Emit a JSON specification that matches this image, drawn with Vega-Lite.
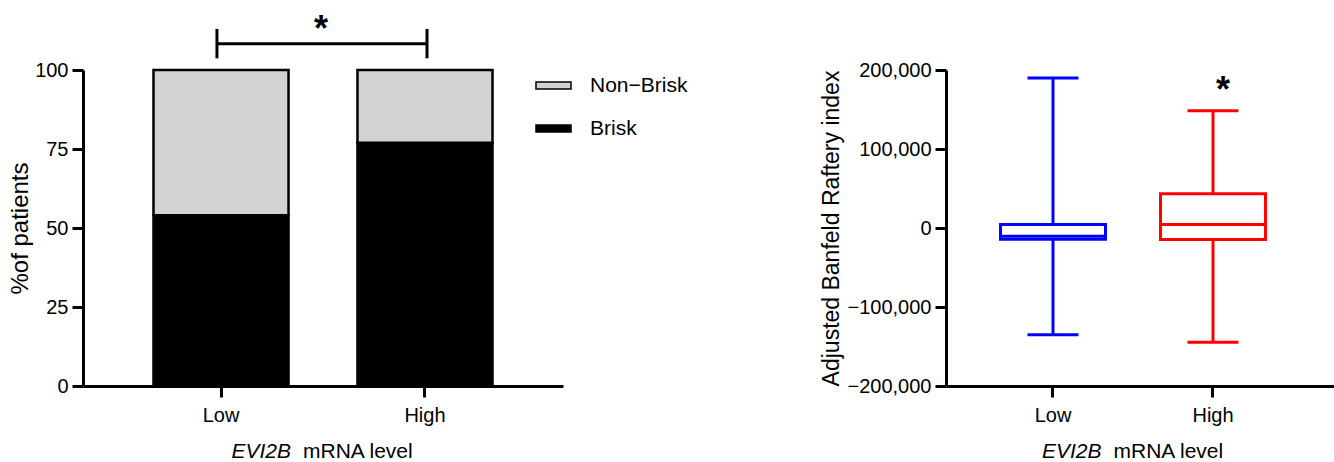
{
  "$schema": "https://vega.github.io/schema/vega-lite/v6.json",
  "padding": {"left": 8, "top": 11, "right": 0, "bottom": 0},
  "background": "white",
  "spacing": 383,
  "bounds": "flush",
  "resolve": {"scale": {"color": "independent", "stroke": "independent", "x": "independent", "y": "independent"}, "legend": {"color": "independent", "stroke": "independent"}},
  "config": {
    "view": {"stroke": null},
    "font": "Liberation Sans",
    "axis": {
      "domainColor": "black", "domainWidth": 3, "tickColor": "black", "tickWidth": 3, "tickSize": 11,
      "labelFont": "Liberation Sans", "labelFontSize": 20, "labelColor": "black",
      "titleFont": "Liberation Sans", "titleFontWeight": "normal", "titleColor": "black", "titleFontSize": 23,
      "grid": false
    },
    "axisX": {"labelPadding": 8, "labelAngle": 0},
    "axisY": {"labelPadding": 4}
  },
  "hconcat": [
    {
      "width": 480, "height": 316,
      "layer": [
        {
          "data": {"values": [
            {"level": "Low", "status": "Brisk", "pct": 54},
            {"level": "Low", "status": "Non−Brisk", "pct": 46},
            {"level": "High", "status": "Brisk", "pct": 77},
            {"level": "High", "status": "Non−Brisk", "pct": 23}
          ]},
          "mark": {"type": "bar", "stroke": "black", "strokeWidth": 2.5, "opacity": 1, "width": {"band": 1}},
          "encoding": {
            "x": {"field": "level", "type": "nominal", "sort": ["Low", "High"],
                  "scale": {"domain": ["Low", "High"], "paddingInner": 0.338, "paddingOuter": 0.3456},
                  "axis": {"title": null}},
            "y": {"field": "pct", "type": "quantitative", "stack": "zero",
                  "scale": {"domain": [0, 100], "nice": false},
                  "axis": {"title": "%of patients", "values": [0, 25, 50, 75, 100], "titleFontSize": 24, "titlePadding": 2}},
            "color": {"field": "status", "type": "nominal",
                      "scale": {"domain": ["Non−Brisk", "Brisk"], "range": ["#d3d3d3", "#000000"]},
                      "legend": {"title": null, "orient": "none", "legendX": 452, "legendY": -3,
                                 "symbolType": "M-1,-0.2H1V0.2H-1Z", "symbolSize": 1225,
                                 "symbolStrokeColor": "black", "symbolStrokeWidth": 1.5,
                                 "labelFontSize": 21, "labelFont": "Liberation Sans", "labelColor": "black",
                                 "labelOffset": 18, "rowPadding": 14}},
            "order": {"field": "status", "sort": "ascending"}
          }
        },
        {
          "data": {"values": [{}]},
          "mark": {"type": "rule", "strokeWidth": 3, "color": "black"},
          "encoding": {
            "x": {"datum": "Low", "type": "nominal", "bandPosition": 0.47},
            "x2": {"datum": "High", "bandPosition": 0.515},
            "y": {"datum": 108.3, "type": "quantitative"}
          }
        },
        {
          "data": {"values": [{}]},
          "mark": {"type": "rule", "strokeWidth": 3, "color": "black"},
          "encoding": {
            "x": {"datum": "Low", "type": "nominal", "bandPosition": 0.47},
            "y": {"datum": 103.7, "type": "quantitative"},
            "y2": {"datum": 113}
          }
        },
        {
          "data": {"values": [{}]},
          "mark": {"type": "rule", "strokeWidth": 3, "color": "black"},
          "encoding": {
            "x": {"datum": "High", "type": "nominal", "bandPosition": 0.515},
            "y": {"datum": 103.7, "type": "quantitative"},
            "y2": {"datum": 113}
          }
        },
        {
          "data": {"values": [{}]},
          "mark": {"type": "text", "text": "*", "fontSize": 36, "fontWeight": "bold", "align": "center", "baseline": "alphabetic", "color": "black"},
          "encoding": {
            "x": {"datum": "Low", "type": "nominal", "bandPosition": 1.241},
            "y": {"datum": 109.3, "type": "quantitative"}
          }
        },
        {
          "data": {"values": [{}]},
          "mark": {"type": "text", "text": "EVI2B", "fontSize": 21, "fontStyle": "italic", "align": "right", "baseline": "middle", "color": "black"},
          "encoding": {
            "x": {"datum": "Low", "type": "nominal", "bandPosition": 1.0185},
            "y": {"datum": -21, "type": "quantitative"}
          }
        },
        {
          "data": {"values": [{}]},
          "mark": {"type": "text", "text": "mRNA level", "fontSize": 21, "align": "left", "baseline": "middle", "color": "black"},
          "encoding": {
            "x": {"datum": "Low", "type": "nominal", "bandPosition": 1.107},
            "y": {"datum": -21, "type": "quantitative"}
          }
        }
      ]
    },
    {
      "width": 388, "height": 316,
      "data": {"values": [
        {"level": "Low", "min": -135000, "q1": -14200, "median": -10400, "q3": 4400, "max": 190000},
        {"level": "High", "min": -144600, "q1": -14600, "median": 4400, "q3": 43300, "max": 148400}
      ]},
      "resolve": {"scale": {"color": "shared"}},
      "layer": [
        {
          "mark": {"type": "rule", "strokeWidth": 3, "opacity": 1},
          "encoding": {
            "x": {"field": "level", "type": "nominal", "sort": ["Low", "High"],
                  "scale": {"domain": ["Low", "High"], "paddingInner": 0, "paddingOuter": 0.2125, "align": 0.397},
                  "axis": {"title": null}},
            "y": {"field": "min", "type": "quantitative",
                  "scale": {"domain": [-200000, 200000], "nice": false},
                  "axis": {"title": "Adjusted Banfeld Raftery index", "values": [-200000, -100000, 0, 100000, 200000], "format": ",.0f", "titlePadding": 4}},
            "y2": {"field": "max"},
            "color": {"field": "level", "type": "nominal", "scale": {"domain": ["Low", "High"], "range": ["#0000ff", "#ff0000"]}, "legend": null}
          }
        },
        {
          "mark": {"type": "bar", "fill": "white", "strokeWidth": 3, "opacity": 1, "strokeOpacity": 1, "width": {"band": 0.656}},
          "encoding": {
            "x": {"field": "level", "type": "nominal"},
            "y": {"field": "q1", "type": "quantitative"},
            "y2": {"field": "q3"},
            "stroke": {"field": "level", "type": "nominal", "scale": {"domain": ["Low", "High"], "range": ["#0000ff", "#ff0000"]}, "legend": null}
          }
        },
        {
          "mark": {"type": "tick", "size": 105, "thickness": 3, "opacity": 1},
          "encoding": {
            "x": {"field": "level", "type": "nominal"},
            "y": {"field": "median", "type": "quantitative"},
            "color": {"field": "level", "type": "nominal", "scale": {"domain": ["Low", "High"], "range": ["#0000ff", "#ff0000"]}, "legend": null}
          }
        },
        {
          "mark": {"type": "tick", "size": 51, "thickness": 3, "opacity": 1},
          "encoding": {
            "x": {"field": "level", "type": "nominal"},
            "y": {"field": "min", "type": "quantitative"},
            "color": {"field": "level", "type": "nominal", "scale": {"domain": ["Low", "High"], "range": ["#0000ff", "#ff0000"]}, "legend": null}
          }
        },
        {
          "mark": {"type": "tick", "size": 51, "thickness": 3, "opacity": 1},
          "encoding": {
            "x": {"field": "level", "type": "nominal"},
            "y": {"field": "max", "type": "quantitative"},
            "color": {"field": "level", "type": "nominal", "scale": {"domain": ["Low", "High"], "range": ["#0000ff", "#ff0000"]}, "legend": null}
          }
        },
        {
          "data": {"values": [{}]},
          "mark": {"type": "text", "text": "*", "fontSize": 36, "fontWeight": "bold", "align": "center", "baseline": "alphabetic", "color": "black"},
          "encoding": {
            "x": {"datum": "High", "type": "nominal", "bandPosition": 0.5625},
            "y": {"datum": 160000, "type": "quantitative"}
          }
        },
        {
          "data": {"values": [{}]},
          "mark": {"type": "text", "text": "EVI2B", "fontSize": 21, "fontStyle": "italic", "align": "right", "baseline": "middle", "color": "black"},
          "encoding": {
            "x": {"datum": "Low", "type": "nominal", "bandPosition": 0.803},
            "y": {"datum": -283500, "type": "quantitative"}
          }
        },
        {
          "data": {"values": [{}]},
          "mark": {"type": "text", "text": "mRNA level", "fontSize": 21, "align": "left", "baseline": "middle", "color": "black"},
          "encoding": {
            "x": {"datum": "Low", "type": "nominal", "bandPosition": 0.878},
            "y": {"datum": -283500, "type": "quantitative"}
          }
        }
      ]
    }
  ]
}
